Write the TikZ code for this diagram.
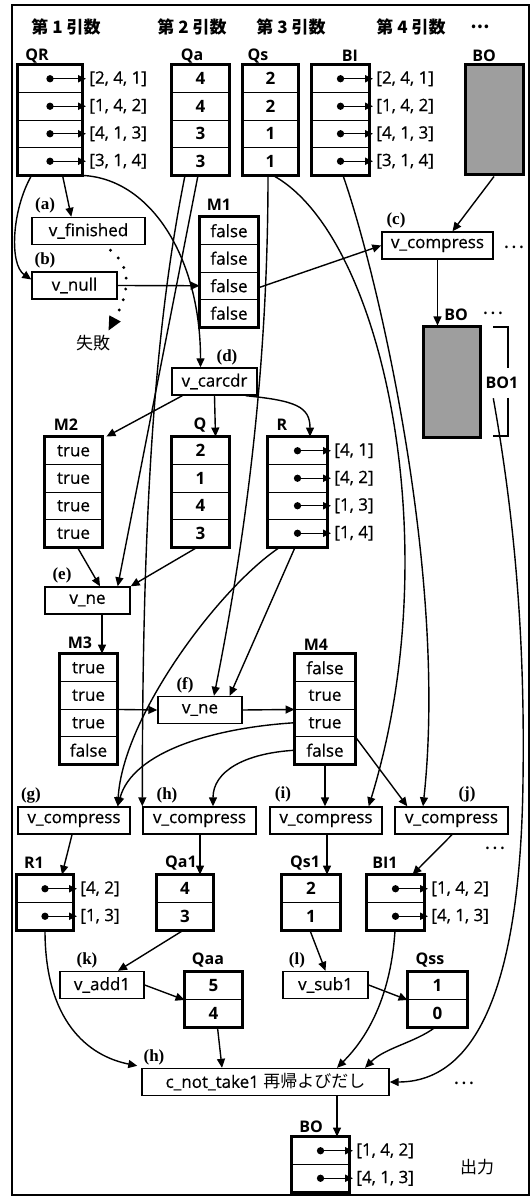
\documentclass[tikz,border=0pt]{standalone}
\usepackage{fontspec}
\setmainfont{Open Sans}[UprightFeatures={FakeBold=0.6}]
\newfontfamily\cjk{Noto Sans CJK JP}
\newfontfamily\tagfont{Liberation Serif}
\usetikzlibrary{positioning, calc, arrows.meta}

\begin{document}
\begin{tikzpicture}[
    x=0.5pt, y=-0.5pt,
    font=\fontsize{8.5}{10}\selectfont,
    >={Triangle[length=4.5pt,width=4pt]},
    cell/.style={draw, line width=0.45pt, minimum height=13.75pt, inner sep=0pt},
    num/.style={cell, font=\bfseries\fontsize{8.5}{10}\selectfont},
    rim/.style={line width=1.5pt},
    fn/.style={draw, line width=0.7pt, minimum height=13.5pt, inner sep=0pt},
    tag/.style={font=\tagfont\bfseries\fontsize{8.5}{10}\selectfont, inner sep=0pt},
    arr/.style={font=\bfseries\fontsize{8}{9}\selectfont, inner sep=0pt},
    head/.style={font=\cjk\bfseries\fontsize{8.5}{10}\selectfont, inner sep=0pt},
    lst/.style={anchor=west, inner sep=1.5pt},
    link/.style={->, line width=0.7pt},
    ptr/.style={{Circle[length=3.6pt]}-{Triangle[length=4pt,width=3.6pt]}, line width=0.7pt, shorten <=-1.8pt}
]
\useasboundingbox (0,0) rectangle (531,1197);
\draw[line width=0.7pt] (12,5) rectangle (529,1195);

% ---- argument headers ----
\node[head] (arg1) at (66,27) {第 1 引数};
\node[head] (arg2) at (192,27) {第 2 引数};
\node[head] (arg3) at (291,27) {第 3 引数};
\node[head] (arg4) at (411,27) {第 4 引数};
\node[head] (argn) at (480,27) {…};

% ---- input arrays ----

% QR
\foreach \s [count=\i] in {{[2, 4, 1]}, {[1, 4, 2]}, {[4, 1, 3]}, {[3, 1, 4]}} {
  \node[cell, minimum width=32pt] (QRc\i) at (50,51.25+27.5*\i) {};
  \node[lst] (QRv\i) at (86,51.25+27.5*\i) {\s};
  \draw[ptr] (QRc\i.center) -- (QRv\i.west);
}
\draw[rim] (QRc1.north west) rectangle (QRc4.south east);
\node[arr] (QRn) at (37,56) {QR};

% Qa
\foreach \s [count=\i] in {4, 4, 3, 3}
  \node[num, minimum width=28.5pt] (Qac\i) at (200.5,51.25+27.5*\i) {\s};
\draw[rim] (Qac1.north west) rectangle (Qac4.south east);
\node[arr] (Qan) at (192,56) {Qa};

% Qs
\foreach \s [count=\i] in {2, 2, 1, 1}
  \node[num, minimum width=27.5pt] (Qsc\i) at (270.5,51.25+27.5*\i) {\s};
\draw[rim] (Qsc1.north west) rectangle (Qsc4.south east);
\node[arr] (Qsn) at (258,56) {Qs};

% BI
\foreach \s [count=\i] in {{[2, 4, 1]}, {[1, 4, 2]}, {[4, 1, 3]}, {[3, 1, 4]}} {
  \node[cell, minimum width=28.5pt] (BIc\i) at (340.5,51.25+27.5*\i) {};
  \node[lst] (BIv\i) at (373,51.25+27.5*\i) {\s};
  \draw[ptr] (BIc\i.center) -- (BIv\i.west);
}
\draw[rim] (BIc1.north west) rectangle (BIc4.south east);
\node[arr] (BIn) at (350,56) {BI};

% BO (input)
\node[draw, rim, fill=black!38, minimum width=29pt, minimum height=55pt, inner sep=0pt] (BOin) at (494,120) {};
\node[arr] (BOinn) at (484,56) {BO};

% ---- (a) (b) (c) (d) ----
\node[tag] (ta) at (45,205) {(a)};
\node[fn, minimum width=56.5pt] (fin) at (88.5,231) {v\_finished};
\node[tag] (tb) at (45,260) {(b)};
\node[fn, minimum width=42.5pt] (vnull) at (74.5,285.5) {v\_null};
\node[inner sep=1pt] (fail) at (93,343) {\cjk 失敗};

% M1
\foreach \s [count=\i] in {false, false, false, false}
  \node[cell, minimum width=29pt] (M1c\i) at (229,203.25+27.5*\i) {\s};
\draw[rim] (M1c1.north west) rectangle (M1c4.south east);
\node[arr] (M1n) at (219,205) {M1};

\node[tag] (tc) at (396,220) {(c)};
\node[fn, minimum width=55.5pt] (compc) at (437.5,245.5) {v\_compress};
\node[head, font=\cjk] (dotc) at (514,247) {…};

% BO (middle)
\node[draw, rim, fill=black!38, minimum width=28.5pt, minimum height=55pt, inner sep=0pt] (BOmid) at (451.5,382) {};
\node[arr] (BOmidn) at (456,315) {BO};
\node[head, font=\cjk] (dotbo) at (493,313) {…};
\node[arr] (BO1) at (502,383) {BO1};
\draw[line width=0.7pt] (493,327) -- (508,327) -- (508,368) (508,398) -- (508,436) -- (493,436);

\node[tag] (td) at (227,357) {(d)};
\node[fn, minimum width=42.5pt] (carcdr) at (214.5,381.5) {v\_carcdr};

% ---- M2, Q, R ----
\foreach \s [count=\i] in {true, true, true, true}
  \node[cell, minimum width=28.5pt] (M2c\i) at (73.5,423.25+27.5*\i) {\s};
\draw[rim] (M2c1.north west) rectangle (M2c4.south east);
\node[arr] (M2n) at (66,425) {M2};

\foreach \s [count=\i] in {2, 1, 4, 3}
  \node[num, minimum width=28.5pt] (Qc\i) at (200.5,423.25+27.5*\i) {\s};
\draw[rim] (Qc1.north west) rectangle (Qc4.south east);
\node[arr] (Qn) at (200,425) {Q};

\foreach \s [count=\i] in {{[4, 1]}, {[4, 2]}, {[1, 3]}, {[1, 4]}} {
  \node[cell, minimum width=29.5pt] (Rc\i) at (297.5,423.25+27.5*\i) {};
  \node[lst] (Rv\i) at (331,423.25+27.5*\i) {\s};
  \draw[ptr] (Rc\i.center) -- (Rv\i.west);
}
\draw[rim] (Rc1.north west) rectangle (Rc4.south east);
\node[arr] (Rn) at (282,425) {R};

% ---- (e) (f), M3, M4 ----
\node[tag] (te) at (62,575) {(e)};
\node[fn, minimum width=42.5pt] (nee) at (87.5,600.5) {v\_ne};

\foreach \s [count=\i] in {true, true, true, false}
  \node[cell, minimum width=28.5pt] (M3c\i) at (88.5,640.25+27.5*\i) {\s};
\draw[rim] (M3c1.north west) rectangle (M3c4.south east);
\node[arr] (M3n) at (80,643) {M3};

\node[tag] (tf) at (185,685) {(f)};
\node[fn, minimum width=42pt] (nef) at (200,710) {v\_ne};

\foreach \s [count=\i] in {false, true, true, false}
  \node[cell, minimum width=30pt] (M4c\i) at (325,640.25+27.5*\i) {\s};
\draw[rim] (M4c1.north west) rectangle (M4c4.south east);
\node[arr] (M4n) at (316,645) {M4};

% ---- (g) - (j) ----
\node[tag] (tg) at (31,795) {(g)};
\node[fn, minimum width=56pt] (compg) at (74,820.5) {v\_compress};
\node[tag] (th) at (167,795) {(h)};
\node[fn, minimum width=56.5pt] (comph) at (199.5,820.5) {v\_compress};
\node[tag] (ti) at (283,794) {(i)};
\node[fn, minimum width=56pt] (compi) at (326,820.5) {v\_compress};
\node[tag] (tj) at (467,794) {(j)};
\node[fn, minimum width=56.5pt] (compj) at (451.5,820.5) {v\_compress};
\node[head, font=\cjk] (dotj) at (495,848) {…};

% ---- R1, Qa1, Qs1, BI1 ----
\foreach \s [count=\i] in {{[4, 2]}, {[1, 3]}} {
  \node[cell, minimum width=28pt] (R1c\i) at (45,861.25+27.5*\i) {};
  \node[lst] (R1v\i) at (77,861.25+27.5*\i) {\s};
  \draw[ptr] (R1c\i.center) -- (R1v\i.west);
}
\draw[rim] (R1c1.north west) rectangle (R1c2.south east);
\node[arr] (R1n) at (34,863) {R1};

\foreach \s [count=\i] in {4, 3}
  \node[num, minimum width=28pt] (Qa1c\i) at (185,861.25+27.5*\i) {\s};
\draw[rim] (Qa1c1.north west) rectangle (Qa1c2.south east);
\node[arr] (Qa1n) at (181,863) {Qa1};

\foreach \s [count=\i] in {2, 1}
  \node[num, minimum width=29pt] (Qs1c\i) at (311,861.25+27.5*\i) {\s};
\draw[rim] (Qs1c1.north west) rectangle (Qs1c2.south east);
\node[arr] (Qs1n) at (305,863) {Qs1};

\foreach \s [count=\i] in {{[1, 4, 2]}, {[4, 1, 3]}} {
  \node[cell, minimum width=28.5pt] (BI1c\i) at (395.5,861.25+27.5*\i) {};
  \node[lst] (BI1v\i) at (428,861.25+27.5*\i) {\s};
  \draw[ptr] (BI1c\i.center) -- (BI1v\i.west);
}
\draw[rim] (BI1c1.north west) rectangle (BI1c2.south east);
\node[arr] (BI1n) at (385,863) {BI1};

% ---- (k) (l) ----
\node[tag] (tk) at (87,960) {(k)};
\node[fn, minimum width=42pt] (vadd) at (102,985) {v\_add1};
\foreach \s [count=\i] in {5, 4}
  \node[num, minimum width=28.5pt] (Qaac\i) at (213.5,958.25+27.5*\i) {\s};
\draw[rim] (Qaac1.north west) rectangle (Qaac2.south east);
\node[arr] (Qaan) at (208,960) {Qaa};

\node[tag] (tl) at (297,960) {(l)};
\node[fn, minimum width=42.5pt] (vsub) at (325.5,985) {v\_sub1};
\foreach \s [count=\i] in {1, 0}
  \node[num, minimum width=29.5pt] (Qssc\i) at (437.5,958.25+27.5*\i) {\s};
\draw[rim] (Qssc1.north west) rectangle (Qssc2.south east);
\node[arr] (Qssn) at (430,960) {Qss};

% ---- recursive call and output ----
\node[tag] (th2) at (154,1057) {(h)};
\node[fn, minimum width=123.5pt] (take) at (265.5,1082) {c\_not\_take1 {\cjk 再帰よびだし}};
\node[head, font=\cjk] (dott) at (464,1083) {…};

\foreach \s [count=\i] in {{[1, 4, 2]}, {[4, 1, 3]}} {
  \node[cell, minimum width=28.5pt] (BOc\i) at (320.5,1123.25+27.5*\i) {};
  \node[lst] (BOv\i) at (353,1123.25+27.5*\i) {\s};
  \draw[ptr] (BOc\i.center) -- (BOv\i.west);
}
\draw[rim] (BOc1.north west) rectangle (BOc2.south east);
\node[arr] (BOn) at (311,1127) {BO};
\node (out) at (477,1167) {\cjk 出力};

% ---- connectors ----
\draw[link] ($(QRc4.south west)+(14,0)$) .. controls +(-20,35) and +(-22,-15) .. ($(vnull.west)+(0,-6)$);
\draw[link] ($(QRc4.south west)+(45,0)$) -- ($(fin.north west)+(40,0)$);
\draw[link] (QRc4.south east) .. controls +(68,3) and +(0,-110) .. ($(carcdr.north)+(-14,0)$);
\draw[line width=1.6pt, dash pattern=on 0pt off 5.5pt, line cap=round, -{Triangle[length=7pt,width=6pt]}]
  ($(fin.south)+(22,5)$) .. controls +(28,22) and +(14,-26) .. ($(fail.north east)+(-4,-2)$);
\draw[link] (vnull.east) -- (M1c3.west);
\draw[link] ($(M1c3.east)+(0,2)$) -- (compc.west);
\draw[link] (BOin.south) -- ($(compc.north)+(15,0)$);
\draw[link] (compc.south) -- ($(BOmid.north)+(-14,0)$);
\draw[link] ($(BO1.south west)+(8,9)$) .. controls (515,520) and (525,640) .. (523,780)
  .. controls (521,950) and (490,1082) .. (take.east);

\draw[link] ($(carcdr.south west)+(11,0)$) -- ($(M2c1.north east)+(4,0)$);
\draw[link] (carcdr.south) -- ($(Qc1.north)+(15,0)$);
\draw[link] ($(carcdr.south east)+(-12,0)$) .. controls +(50,5) and +(0,-30) .. ($(Rc1.north)+(12.5,0)$);

\draw[link] ($(M2c4.south)+(4,0)$) -- ($(nee.north)+(12.5,0)$);
\draw[link] ($(Qac4.south)+(-2.5,0)$) -- ($(nee.north east)+(-13,0)$);
\draw[link] ($(Qc4.south)+(-3.5,0)$) -- (nee.north east);
\draw[link] ($(nee.south)+(14.5,0)$) -- ($(M3c1.north)+(13.5,0)$);
\draw[link] (M3c2.south east) -- (nef.west);
\draw[link] (nef.east) -- (M4c2.south west);
\draw[link] ($(Qsc4.south)+(-2.5,0)$) .. controls +(0,200) and +(30,-150) .. ($(nef.north)+(14,0)$);
\draw[link] ($(Rc4.south)+(-2.5,0)$) -- ($(nef.north east)+(-13,0)$);

\draw[link] ($(Rc4.south west)+(12,0)$) .. controls +(-60,40) and +(5,-90) .. ($(compg.north east)+(-13,0)$);
\draw[link] (M4c3.west) .. controls +(-80,5) and +(15,-55) .. ($(compg.north east)+(-13,0)$);
\draw[link] (M4c4.west) .. controls +(-50,3) and +(0,-35) .. ($(comph.north)+(13.5,0)$);
\draw[link] (M4c4.south) -- (M4c4.south |- compi.north);
\draw[link] (M4c3.south east) -- ($(compj.north west)+(13,0)$);
\draw[link] ($(Qsc4.south)+(2.5,0)$) .. controls +(110,60) and +(80,-260) .. ($(compi.north east)+(-14,0)$);
\draw[link] ($(BIc4.south)+(2.5,0)$) .. controls +(35,100) and +(25,-230) .. ($(compj.north)+(-28.5,0)$);
\draw[link] ($(Qac4.south)+(-15.5,0)$) .. controls +(-30,150) and +(0,-300) .. (comph.north west);

\draw[link] ($(compg.south)+(-2,0)$) -- ($(R1c1.north)+(17,0)$);
\draw[link] ($(comph.south)+(0.5,0)$) -- ($(Qa1c1.north)+(15,0)$);
\draw[link] ($(compi.south)+(1,0)$) -- ($(Qs1c1.north)+(16,0)$);
\draw[link] ($(compj.south)+(0.5,0)$) -- ($(BI1c1.north)+(17,0)$);
\draw[link] ($(Qa1c2.south)+(-2,0)$) -- ($(vadd.north)+(16,0)$);
\draw[link] (vadd.east) -- (Qaac1.south west);
\draw[link] ($(Qs1c2.south)+(-1,0)$) -- (vsub.north);
\draw[link] (vsub.east) -- (Qssc1.south west);

\draw[link] (R1c2.south) .. controls +(0,90) and +(-50,-10) .. ($(take.north west)+(-4,-2)$);
\draw[link] ($(Qaac2.south)+(4,0)$) -- ($(take.north)+(-43.5,0)$);
\draw[link] ($(BI1c2.south)+(-0.5,0)$) .. controls +(-5,80) and +(20,-20) .. ($(take.north)+(71.5,0)$);
\draw[link] ($(Qssc2.south)+(-2.5,0)$) .. controls +(-20,15) and +(20,-20) .. ($(take.north)+(99.5,0)$);
\draw[link] ($(take.south)+(71.5,0)$) -- ($(BOc1.north)+(16.5,0)$);

\end{tikzpicture}
\end{document}
